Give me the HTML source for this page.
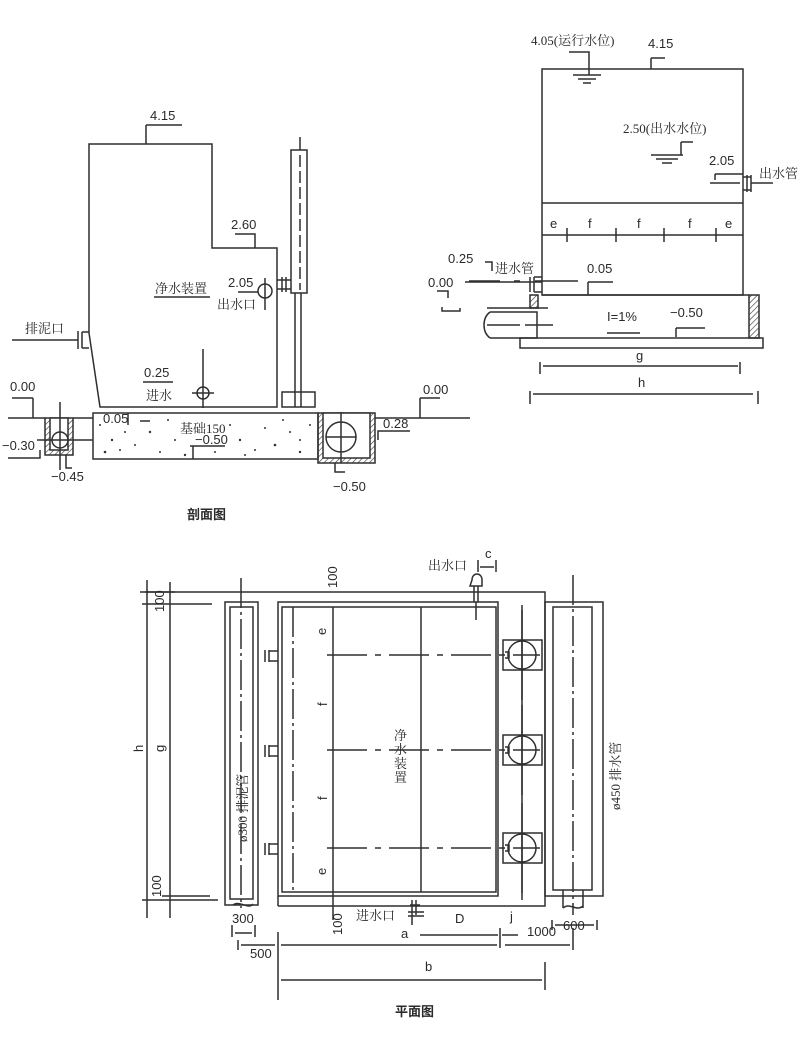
<!DOCTYPE html>
<html><head><meta charset="utf-8"><style>
html,body{margin:0;padding:0;background:#fff;}
svg{display:block}
text{font-family:"Liberation Sans","Noto Sans CJK SC",sans-serif;fill:#2a2a2a;font-size:13px}
.c{font-family:"Liberation Serif","Noto Serif CJK SC",serif;font-size:13px}
</style></head><body>
<svg width="800" height="1038" viewBox="0 0 800 1038" xmlns="http://www.w3.org/2000/svg">
<defs>
<pattern id="h" width="4" height="4" patternUnits="userSpaceOnUse" patternTransform="rotate(45)"><line x1="0" y1="0" x2="0" y2="4" stroke="#333" stroke-width="1.2"/></pattern>
</defs>
<g stroke="#2f2f2f" stroke-width="1.5" fill="none">
<path d="M89 144 H212 V248 H277 V407 H100 L89 333 Z"/>
<path d="M146 125 H182 M146 125 V144"/>
<path d="M235 234 H255 V248"/>
<rect x="291" y="150" width="16" height="143"/>
<line x1="300" y1="137" x2="300" y2="150"/>
<line x1="300" y1="155" x2="300" y2="290" stroke-dasharray="12 4"/>
<path d="M295 293 V407 M301 293 V407"/>
<path d="M277 280 H291 M277 289 H291 M282 277 V292 M286 277 V292"/>
<rect x="282" y="392" width="33" height="15"/>
<circle cx="265" cy="291" r="7"/>
<path d="M265 278 V310 M238 292 H258"/>
<line x1="154" y1="297" x2="210" y2="297"/>
<path d="M12 340 H78 M78 331 V349 M82 332 V348 M82 332 H89 M82 348 H89"/>
<line x1="143" y1="382" x2="173" y2="382"/>
<circle cx="203" cy="393" r="6"/>
<path d="M203 349 V408 M192 393 H214"/>
<path d="M8 418 H45 M73 418 H93 M375 418 H470"/>
<path d="M33 398 H12 M33 398 V418"/>
<path d="M420 398 H440 M420 398 V418"/>
<rect x="93" y="413" width="225" height="46"/>
<path d="M128 413 V425 M140 421 H150"/>
<path d="M190 446 H225 M193 446 V459"/>
<rect x="45" y="418" width="28" height="37" fill="url(#h)"/>
<rect x="50" y="418" width="18" height="32" fill="#fff"/>
<circle cx="60" cy="440" r="8"/>
<path d="M60 402 V470 M37 440 H93 M66 455 V468 H72"/>
<path d="M8 458 H40 V450"/>
<rect x="318" y="413" width="57" height="50" fill="url(#h)"/>
<rect x="323" y="413" width="47" height="45" fill="#fff"/>
<circle cx="341" cy="437" r="15"/>
<path d="M341 412 V463 M326 437 H356 M335 463 V472 H345 M378 440 V431 H410"/>
</g>
<g fill="#333">
<circle cx="100" cy="425" r="1"/><circle cx="112" cy="440" r="1.2"/><circle cx="120" cy="450" r="1"/><circle cx="105" cy="452" r="1.3"/><circle cx="135" cy="445" r="1"/><circle cx="150" cy="432" r="1.2"/><circle cx="160" cy="452" r="1"/><circle cx="175" cy="440" r="1"/><circle cx="185" cy="455" r="1.2"/><circle cx="230" cy="425" r="1"/><circle cx="240" cy="440" r="1.2"/><circle cx="255" cy="450" r="1"/><circle cx="265" cy="428" r="1"/><circle cx="275" cy="445" r="1.3"/><circle cx="290" cy="432" r="1"/><circle cx="300" cy="452" r="1.2"/><circle cx="310" cy="425" r="1"/><circle cx="245" cy="455" r="1"/><circle cx="283" cy="420" r="1"/><circle cx="215" cy="452" r="1"/><circle cx="168" cy="420" r="1"/><circle cx="125" cy="432" r="1"/><circle cx="300" cy="440" r="1"/>
</g>
<g>
<text x="150" y="120">4.15</text>
<text x="231" y="229">2.60</text>
<text x="228" y="287">2.05</text>
<text class="c" x="217" y="309">出水口</text>
<text class="c" x="155" y="293">净水装置</text>
<text class="c" x="25" y="333">排泥口</text>
<text x="144" y="377">0.25</text>
<text class="c" x="146" y="400">进水</text>
<text x="10" y="391">0.00</text>
<text x="2" y="450">−0.30</text>
<text x="51" y="481">−0.45</text>
<text x="103" y="423" font-size="11">0.05</text>
<text class="c" x="180" y="433">基础150</text>
<text x="195" y="444" font-size="12">−0.50</text>
<text x="333" y="491">−0.50</text>
<text x="383" y="428" font-size="12">0.28</text>
<text x="423" y="394">0.00</text>
<text x="187" y="519" font-size="16" font-weight="bold" font-family="Noto Sans CJK SC,sans-serif">剖面图</text>
</g>
<g stroke="#2f2f2f" stroke-width="1.5" fill="none">
<rect x="542" y="69" width="201" height="226"/>
<line x1="542" y1="203" x2="743" y2="203"/>
<line x1="542" y1="235" x2="743" y2="235"/>
<path d="M567 228 V242 M616 228 V242 M664 228 V242 M716 228 V242"/>
<path d="M569 52 H589 V75 M573 75 H601 M578 79 H596 M583 83 H591"/>
<path d="M651 58 H665 M651 58 V69"/>
<path d="M681 142 H693 M681 142 V155 M651 155 H683 M656 159 H678 M662 163 H672"/>
<path d="M715 174 H743 M715 174 V180 M710 183 H740 M743 177 H751 M743 190 H751 M747 175 V192 M751 175 V192 M751 183 H773"/>
<rect x="520" y="338" width="243" height="10"/>
<rect x="749" y="295" width="10" height="43" fill="url(#h)"/>
<path d="M542 295 H749"/>
<path d="M465 282 H542 M485 262 H492 V271 M469 281 H500 M514 281 H520 M535 281 H578"/>
<path d="M530 277 V292 M534 277 V292 M534 277 H542 M534 292 H542"/>
<rect x="530" y="295" width="8" height="13" fill="url(#h)"/>
<path d="M487 308 H548"/>
<path d="M490 312 H537 V338 M490 338 H537 M490 312 C482 318 482 332 490 338 M487 325 H520 M525 325 H553"/>
<path d="M437 291 H448 V298 M442 307 V311 H460 V308"/>
<path d="M588 282 H613 M588 282 V295"/>
<path d="M607 333 H640"/>
<path d="M676 328 H705 M676 328 V337"/>
<path d="M540 362 V374 M740 362 V374 M543 366 H738"/>
<path d="M530 391 V404 M758 391 V404 M533 394 H753"/>
</g>
<g>
<text class="c" x="531" y="45">4.05(运行水位)</text>
<text x="648" y="48">4.15</text>
<text class="c" x="623" y="133">2.50(出水水位)</text>
<text x="709" y="165">2.05</text>
<text class="c" x="759" y="178">出水管</text>
<text x="550" y="228">e</text><text x="588" y="228">f</text><text x="637" y="228">f</text><text x="688" y="228">f</text><text x="725" y="228">e</text>
<text x="448" y="263">0.25</text>
<text class="c" x="495" y="273">进水管</text>
<text x="428" y="287">0.00</text>
<text x="587" y="273">0.05</text>
<text x="607" y="321">I=1%</text>
<text x="670" y="317">−0.50</text>
<text x="636" y="360">g</text>
<text x="638" y="387">h</text>
</g>
<g stroke="#2f2f2f" stroke-width="1.5" fill="none">
<path d="M145 592 H545 V906 H282"/>
<rect x="278" y="602" width="220" height="294"/>
<rect x="282" y="607" width="214" height="285"/>
<line x1="278" y1="896" x2="278" y2="906"/>
<line x1="278" y1="906" x2="282" y2="906"/>
<line x1="293" y1="607" x2="293" y2="892" stroke-dasharray="30 4 3 4"/>
<path d="M333 607 V920 M421 607 V892"/>
<rect x="225" y="602" width="33" height="303"/>
<rect x="230" y="607" width="23" height="292"/>
<line x1="241" y1="578" x2="241" y2="908" stroke-dasharray="30 4 3 4"/>
<rect x="545" y="602" width="58" height="294"/>
<rect x="553" y="607" width="39" height="283"/>
<line x1="573" y1="575" x2="573" y2="915" stroke-dasharray="30 4 3 4"/>
<path d="M563 890 V908 M583 890 V908 M563 908 C570 902 576 912 583 906"/>
<path d="M233 905 C240 900 248 910 253 904"/>
<g id="pv">
<rect x="503" y="640" width="39" height="30"/>
<circle cx="522" cy="655" r="14"/>
<path d="M505 652 H509 V658 H505"/>
<path d="M327 655 H540" stroke-dasharray="40 8 6 8"/>
<path d="M522 610 V700"/>
<path d="M265 650 V662 M269 650 V662 M269 651 H278 M269 661 H278"/>
</g>
<use href="#pv" y="95"/>
<use href="#pv" y="193"/>
<line x1="522" y1="605" x2="522" y2="900"/>
<path d="M470 586 H482 V580 C482 572 472 572 472 580 Z M474 586 V602 M478 586 V602 M476 602 V620"/>
<path d="M478 560 V572 M496 560 V572 M480 567 H494"/>
<path d="M412 900 V925 M416 900 V915 M410 905 H420 M408 912 H424 M408 916 H424"/>
<path d="M147 580 V918 M170 582 V918 M142 604 H212 M162 896 H210 M142 900 H218 M140 592 H175"/>
<path d="M232 925 V937 M255 925 V937 M235 933 H252"/>
<path d="M278 932 V1000 M238 940 V950 M241 945 H275"/>
<path d="M420 935 H498 M500 928 V948 M502 935 H518"/>
<path d="M281 945 H497 M505 945 H570 M573 928 V950"/>
<path d="M552 920 V930 M597 920 V930 M555 925 H594"/>
<path d="M545 962 V990 M281 980 H542"/>
</g>
<g>
<text x="148" y="614" font-size="12" transform="rotate(-90 155 605)">100</text>
<text x="148" y="896" font-size="12" transform="rotate(-90 155 890)">100</text>
<text x="135" y="752" transform="rotate(-90 139 748)">h</text>
<text x="156" y="752" transform="rotate(-90 160 748)">g</text>
<text x="323" y="582" font-size="12" transform="rotate(-90 333 578)">100</text>
<text x="327" y="930" font-size="12" transform="rotate(-90 337 925)">100</text>
<text x="318" y="633" transform="rotate(-90 323 630)">e</text>
<text x="320" y="705" transform="rotate(-90 324 702)">f</text>
<text x="320" y="799" transform="rotate(-90 324 796)">f</text>
<text x="318" y="873" transform="rotate(-90 323 870)">e</text>
<text class="c" x="394" y="740">净</text><text class="c" x="394" y="754">水</text><text class="c" x="394" y="768">装</text><text class="c" x="394" y="782">置</text>
<text class="c" x="200" y="805" transform="rotate(-90 242 800)">ø300 排泥管</text>
<text class="c" x="570" y="770" transform="rotate(-90 615 765)">ø450 排水管</text>
<text class="c" x="428" y="570">出水口</text>
<text x="485" y="558">c</text>
<text class="c" x="356" y="920">进水口</text>
<text x="232" y="923">300</text>
<text x="250" y="958">500</text>
<text x="401" y="938">a</text>
<text x="455" y="923">D</text>
<text x="510" y="921">j</text>
<text x="527" y="936">1000</text>
<text x="563" y="930">600</text>
<text x="425" y="971">b</text>
<text x="395" y="1016" font-size="16" font-weight="bold" font-family="Noto Sans CJK SC,sans-serif">平面图</text>
</g>
</svg>
</body></html>
